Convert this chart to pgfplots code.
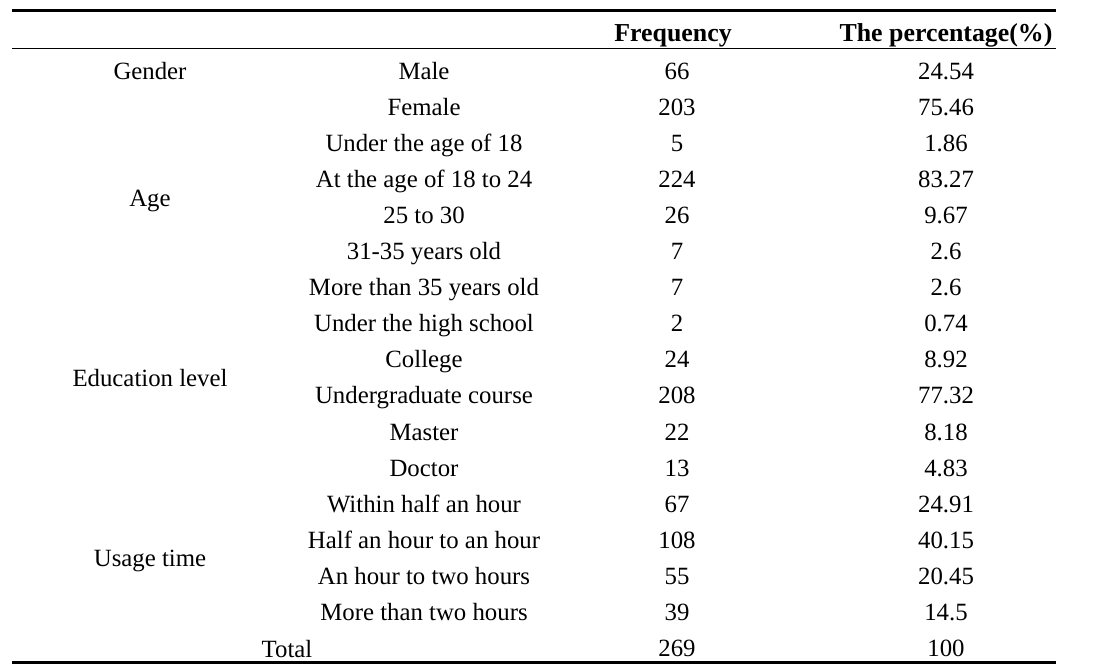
\documentclass[border=0pt]{standalone}
\usepackage{fontspec}
\setmainfont{Liberation Serif}
\usepackage{pgfplots}
\usepackage{pgfplotstable}
\pgfplotsset{compat=1.18}

\pgfplotstableread[col sep=comma]{
x,y,label
673,41,Frequency
946,41,The percentage(\%)
}\header

\pgfplotstableread[col sep=comma]{
x,y,label
150,79,Gender
150,206,Age
150,386,Education level
150,566,Usage time
287,657,Total
}\groups

\pgfplotstableread[col sep=comma]{
row,cat,freq,pct
1,Male,66,24.54
2,Female,203,75.46
3,Under the age of 18,5,1.86
4,At the age of 18 to 24,224,83.27
5,25 to 30,26,9.67
6,31-35 years old,7,2.6
7,More than 35 years old,7,2.6
8,Under the high school,2,0.74
9,College,24,8.92
10,Undergraduate course,208,77.32
11,Master,22,8.18
12,Doctor,13,4.83
13,Within half an hour,67,24.91
14,Half an hour to an hour,108,40.15
15,An hour to two hours,55,20.45
16,More than two hours,39,14.5
17,,269,100
}\rows

\begin{document}
\begin{tikzpicture}
\begin{axis}[
  scale only axis,
  width=827.25pt, height=501.75pt,
  xmin=0, xmax=1103, ymin=0, ymax=669,
  y dir=reverse,
  hide axis,
  clip=false,
  every node near coord/.append style={anchor=base, inner sep=0pt, font=\fontsize{18.6}{22}\selectfont, text=black},
]
% invisible frame fixing the picture size
\addplot[draw=none, mark=none] coordinates {(0,0) (1103,669)};
% rules
\addplot[black, line width=2.25pt, mark=none] coordinates {(12,10.5) (1056,10.5)};
\addplot[black, line width=1.1pt, mark=none] coordinates {(12,48.5) (1056,48.5)};
\addplot[black, line width=2.25pt, mark=none] coordinates {(12,662) (1056,662)};
% header
\addplot[draw=none, mark=none, nodes near coords, point meta=explicit symbolic,
  every node near coord/.append style={font=\fontsize{19.4}{22}\selectfont\bfseries}]
  table[x=x, y=y, meta=label] {\header};
% group labels
\addplot[draw=none, mark=none, nodes near coords, point meta=explicit symbolic]
  table[x=x, y=y, meta=label] {\groups};
% category column
\addplot[draw=none, mark=none, nodes near coords, point meta=explicit symbolic]
  table[x expr=424, y expr=42.9+36.1*\thisrow{row}, meta=cat] {\rows};
% frequency column
\addplot[draw=none, mark=none, nodes near coords, point meta=explicit symbolic]
  table[x expr=677, y expr=42.9+36.1*\thisrow{row}, meta=freq] {\rows};
% percentage column
\addplot[draw=none, mark=none, nodes near coords, point meta=explicit symbolic]
  table[x expr=946, y expr=42.9+36.1*\thisrow{row}, meta=pct] {\rows};
\end{axis}
\path (current axis.south west) rectangle (current axis.north east);
\end{tikzpicture}
\end{document}
